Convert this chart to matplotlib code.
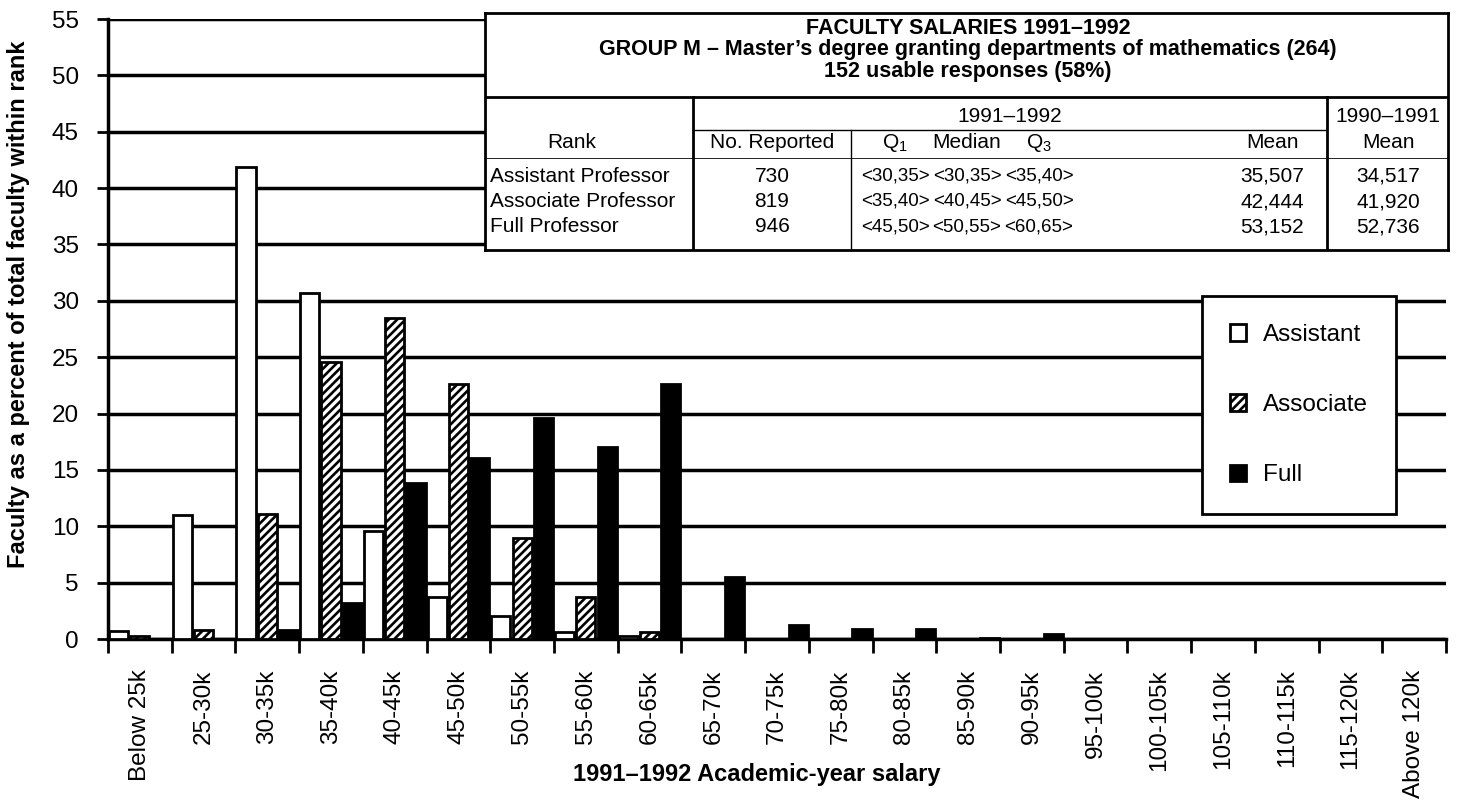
import numpy as np
import matplotlib
matplotlib.use('Agg')
import matplotlib.pyplot as plt
from matplotlib.patches import Patch

plt.rcParams['font.family'] = ['Liberation Sans', 'DejaVu Sans']
plt.rcParams['hatch.linewidth'] = 1.9

# Salary brackets (x categories)
brackets = ['Below 25k', '25-30k', '30-35k', '35-40k', '40-45k', '45-50k',
            '50-55k', '55-60k', '60-65k', '65-70k', '70-75k', '75-80k',
            '80-85k', '85-90k', '90-95k', '95-100k', '100-105k', '105-110k',
            '110-115k', '115-120k', 'Above 120k']

# Percent of faculty within rank
assistant = [0.7, 11.0, 41.9, 30.7, 9.6, 3.7, 2.0, 0.6, 0.3, 0, 0, 0, 0, 0, 0, 0, 0, 0, 0, 0, 0]
associate = [0.3, 0.8, 11.1, 24.6, 28.5, 22.6, 9.0, 3.7, 0.6, 0, 0, 0, 0, 0, 0, 0, 0, 0, 0, 0, 0]
full = [0, 0, 0.8, 3.2, 13.8, 16.1, 19.6, 17.0, 22.6, 5.5, 1.2, 0.9, 0.9, 0.1, 0.4, 0, 0, 0, 0, 0, 0]

# Summary table
table_title = ["FACULTY SALARIES 1991\u20131992",
               "GROUP M \u2013 Master\u2019s degree granting departments of mathematics (264)",
               "152 usable responses (58%)"]
ranks = ['Assistant Professor', 'Associate Professor', 'Full Professor']
n_reported = ['730', '819', '946']
q1 = ['<30,35>', '<35,40>', '<45,50>']
median = ['<30,35>', '<40,45>', '<50,55>']
q3 = ['<35,40>', '<45,50>', '<60,65>']
mean_9192 = ['35,507', '42,444', '53,152']
mean_9091 = ['34,517', '41,920', '52,736']

W, H = 1457, 800
fig = plt.figure(figsize=(W / 100, H / 100), dpi=100)
ax = fig.add_axes([108 / W, 1 - 639 / H, (1446 - 108) / W, (639 - 19) / H])

x = np.arange(len(brackets))
bw = 0.30
ax.bar(x + 1 / 6, assistant, bw, facecolor='white', edgecolor='black', lw=2, zorder=3)
ax.bar(x + 1 / 2, associate, bw, facecolor='white', edgecolor='black', hatch='////', lw=2, zorder=3)
ax.bar(x + 5 / 6, full, bw, facecolor='black', edgecolor='black', lw=2, zorder=3)

ax.set_xlim(0, len(brackets))
ax.set_ylim(0, 55)
ax.set_yticks(np.arange(0, 56, 5))
ax.set_xticks(np.arange(0, len(brackets) + 1))
ax.set_xticklabels([])
ax.set_xticks(x + 0.5, minor=True)
ax.set_xticklabels(brackets, minor=True, rotation=90, fontsize=17.5, va='top')
ax.tick_params(axis='x', which='major', length=10, width=2, direction='out')
ax.tick_params(axis='x', which='minor', length=0, pad=22)
ax.tick_params(axis='y', length=8, width=2, labelsize=17.5, pad=13)
ax.yaxis.grid(True, color='black', lw=2.5)
ax.set_axisbelow(True)
for s in ['top', 'right']:
    ax.spines[s].set_visible(False)
for s in ['left', 'bottom']:
    ax.spines[s].set_linewidth(2.5)

ax.set_ylabel('Faculty as a percent of total faculty within rank', fontsize=17, fontweight='bold')
ax.yaxis.set_label_coords(-0.058, 0.54)
ax.set_xlabel('1991\u20131992 Academic-year salary', fontsize=17, fontweight='bold')
ax.xaxis.set_label_coords(0.485, -0.2)

# Legend
handles = [Patch(facecolor='white', edgecolor='black', lw=2),
           Patch(facecolor='white', edgecolor='black', hatch='////', lw=2),
           Patch(facecolor='black', edgecolor='black', lw=2)]
leg = fig.legend(handles, ['Assistant', 'Associate', 'Full'], loc='upper left',
                 bbox_to_anchor=(1202 / W, 1 - 296 / H), fontsize=17.5, frameon=True,
                 fancybox=False, framealpha=1, edgecolor='black', handlelength=0.65,
                 handleheight=0.65, handletextpad=0.7, labelspacing=1.98, borderpad=1.15,
                 borderaxespad=0)
leg.get_frame().set_linewidth(2)

# Summary table in pixel coordinates
tx = fig.add_axes([485 / W, 1 - 250 / H, (1448 - 485) / W, (250 - 13) / H])
tx.set_xlim(485, 1448)
tx.set_ylim(250, 13)
tx.set_xticks([])
tx.set_yticks([])
for s in tx.spines.values():
    s.set_linewidth(2)
tx.set_facecolor('white')
tx.set_zorder(5)

for i, t in enumerate(table_title):
    tx.text(968, 29 + i * 21, t, ha='center', va='center', fontsize=15.5, fontweight='bold')
tx.plot([485, 1448], [97, 97], color='black', lw=2)
tx.plot([693, 1327], [130, 130], color='black', lw=1)
tx.plot([485, 1448], [158, 158], color='black', lw=0.6)
tx.plot([693, 693], [97, 250], color='black', lw=2)
tx.plot([851, 851], [130, 250], color='black', lw=1)
tx.plot([1327, 1327], [97, 250], color='black', lw=2)

fs = 15
tx.text(1010, 116, '1991\u20131992', ha='center', va='center', fontsize=fs)
tx.text(1388, 116, '1990\u20131991', ha='center', va='center', fontsize=fs)
headers = ['Rank', 'No. Reported', r'Q$_\mathregular{1}$', 'Median', r'Q$_\mathregular{3}$', 'Mean', 'Mean']
cols = [572, 772, 895, 967, 1039, 1272, 1388]
for h, cx in zip(headers, cols):
    tx.text(cx, 143, h, ha='center', va='center', fontsize=fs)

for r in range(len(ranks)):
    yy = 176 + r * 25.5
    tx.text(490, yy, ranks[r], ha='left', va='center', fontsize=fs)
    row = [n_reported[r], q1[r], median[r], q3[r], mean_9192[r], mean_9091[r]]
    for j, (v, cx) in enumerate(zip(row, cols[1:])):
        tx.text(cx, yy, v, ha='center', va='center', fontsize=13.5 if 1 <= j <= 3 else fs)

fig.savefig('out.png', dpi=100)
